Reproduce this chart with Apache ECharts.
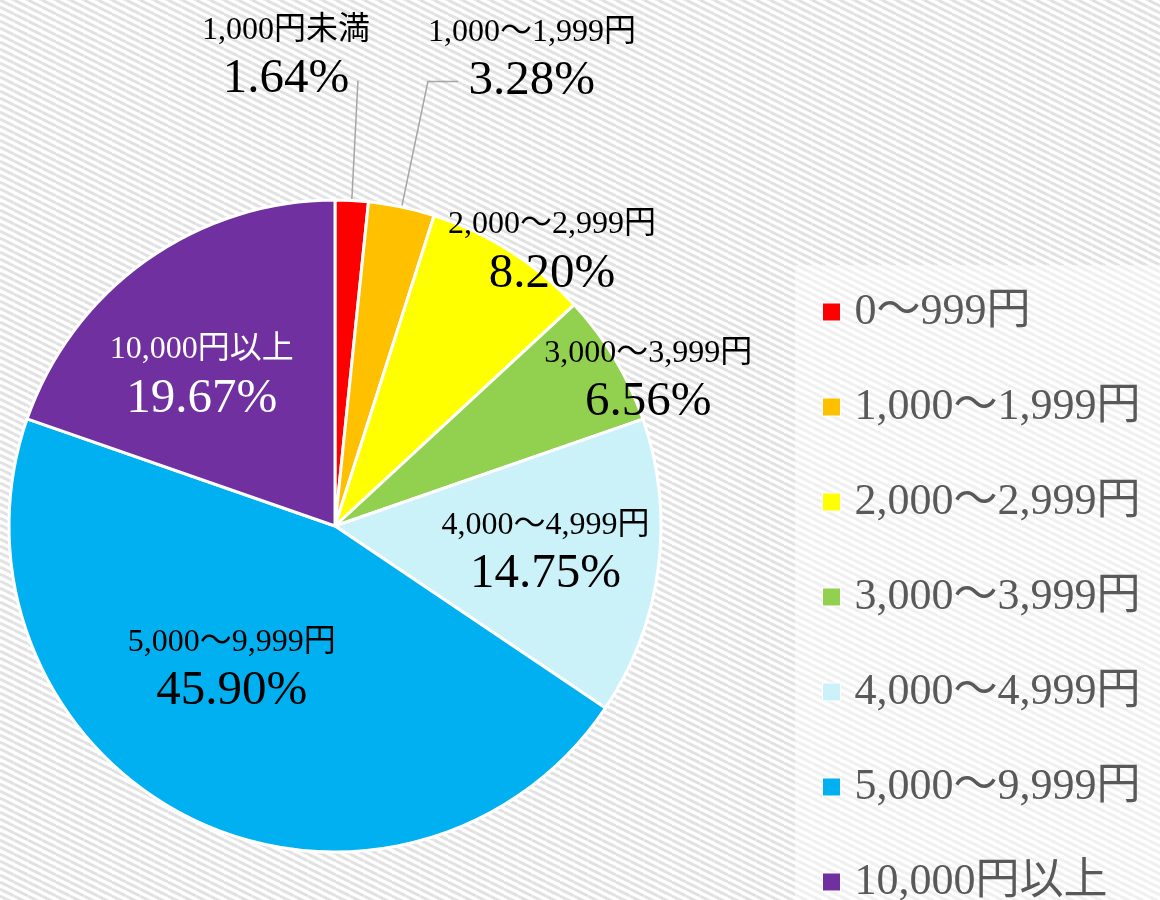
<!DOCTYPE html>
<html>
<head>
<meta charset="utf-8">
<script src="https://cdn.jsdelivr.net/npm/echarts@6/dist/echarts.min.js"></script>
<style>
  html, body { margin: 0; padding: 0; background: #fff; }
  #chart { width: 1160px; height: 900px; }
</style>
</head>
<body>
<div id="chart"></div>
<script>
// legend names and the names written on the slices (the first one differs in the original)
const legendNames = ['0～999円', '1,000～1,999円', '2,000～2,999円', '3,000～3,999円', '4,000～4,999円', '5,000～9,999円', '10,000円以上'];
const labelNames = ['1,000円未満', '1,000～1,999円', '2,000～2,999円', '3,000～3,999円', '4,000～4,999円', '5,000～9,999円', '10,000円以上'];
const shares = [1.64, 3.28, 8.20, 6.56, 14.75, 45.90, 19.67];
const colors = ['#ff0000', '#ffc000', '#ffff00', '#92d050', '#ccf2f9', '#00b0f0', '#7030a0'];

// label offsets (from the default label spot) and leader line lengths
const labelShift = [[-161, -23], [-35, -22], [128, -134], [171, -60], [46, 5], [-29, -5], [-37, -14]];
const leaderLen = [[120, 0], [128, 30]];

const FONT = "'Liberation Serif', 'Noto Sans CJK JP', serif";

function stripes(bg, fg) {
  const c = document.createElement('canvas');
  c.width = 14; c.height = 7;
  const g = c.getContext('2d');
  g.fillStyle = bg;
  g.fillRect(0, 0, 14, 7);
  g.strokeStyle = fg;
  g.lineWidth = 3;
  [-7, 0, 7].forEach(o => {
    g.beginPath();
    g.moveTo(0, o);
    g.lineTo(14, o + 7);
    g.stroke();
  });
  return c;
}

const myChart = echarts.init(document.getElementById('chart'));

const data = shares.map((v, i) => ({
  name: legendNames[i],
  value: v,
  labelName: labelNames[i],
  itemStyle: { color: colors[i] },
  label: {
    position: i < 2 ? 'outside' : 'inside',
    color: i === 6 ? '#ffffff' : '#000000'
  },
  labelLine: i < 2
    ? { show: true, length: leaderLen[i][0], length2: leaderLen[i][1] }
    : { show: false }
}));

const option = {
  animation: false,
  graphic: [
    {
      type: 'rect', z: -10, silent: true,
      shape: { x: 0, y: 0, width: 1160, height: 900 },
      style: { fill: { image: stripes('#ffffff', '#e2e2e2'), repeat: 'repeat' } }
    },
    {
      type: 'rect', z: -9, silent: true,
      shape: { x: 795, y: 265, width: 365, height: 635 },
      style: { fill: { image: stripes('#ffffff', '#f0f0f0'), repeat: 'repeat' } }
    }
  ],
  legend: {
    orient: 'vertical',
    left: 822,
    top: 290,
    height: 640,
    padding: 0,
    itemWidth: 18,
    itemHeight: 18,
    itemGap: 51,
    icon: 'rect',
    itemStyle: { borderWidth: 1, borderColor: '#ffffff' },
    textStyle: {
      fontFamily: FONT,
      fontSize: 44,
      lineHeight: 40,
      color: '#595959',
      padding: [0, 0, 0, 9]
    },
    data: legendNames
  },
  series: [
    {
      type: 'pie',
      center: [335, 526],
      radius: 326,
      startAngle: 90,
      clockwise: true,
      avoidLabelOverlap: false,
      itemStyle: { borderColor: '#ffffff', borderWidth: 3 },
      label: {
        show: true,
        fontFamily: FONT,
        formatter: p => '{n|' + p.data.labelName + '}\n{p|' + p.value.toFixed(2) + '%}',
        rich: {
          n: { fontFamily: FONT, fontSize: 32, lineHeight: 44, align: 'center' },
          p: { fontFamily: FONT, fontSize: 49, lineHeight: 54, align: 'center' }
        }
      },
      labelLine: {
        lineStyle: { color: '#a6a6a6', width: 1.5 }
      },
      labelLayout: params => {
        const s = labelShift[params.dataIndex];
        return { dx: s[0], dy: s[1] };
      },
      emphasis: { disabled: true },
      data: data
    }
  ]
};

myChart.setOption(option);
</script>
</body>
</html>
